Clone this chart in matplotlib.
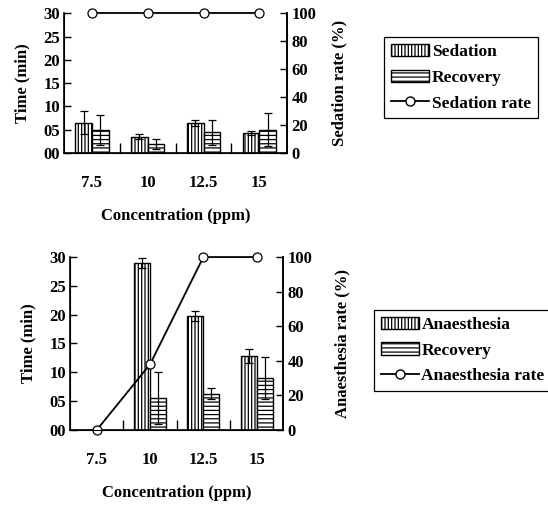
import matplotlib.pyplot as plt
import numpy as np
from matplotlib.lines import Line2D
from matplotlib.patches import Patch

plt.rcParams["font.family"] = ["Liberation Serif", "DejaVu Serif"]
plt.rcParams["font.weight"] = "bold"
plt.rcParams["hatch.linewidth"] = 0.9

concentrations = ["7.5", "10", "12.5", "15"]

# top panel: sedation
sedation_time = [6.5, 3.5, 6.5, 4.3]
sedation_err = [2.5, 0.5, 0.7, 0.5]
sed_recovery_time = [5.0, 2.0, 4.5, 5.0]
sed_recovery_err = [3.2, 1.1, 2.7, 3.5]
sedation_rate = [100, 100, 100, 100]

# bottom panel: anaesthesia
anaesthesia_time = [0.0, 29.0, 19.8, 12.8]
anaesthesia_err = [0.0, 0.9, 0.9, 1.2]
ana_recovery_time = [0.0, 5.5, 6.3, 9.0]
ana_recovery_err = [0.0, 4.5, 1.0, 3.7]
anaesthesia_rate = [0, 38, 100, 100]

y_ticks = [0, 5, 10, 15, 20, 25, 30]
y_ticklabels = ["00", "05", "10", "15", "20", "25", "30"]
rate_ticks = [0, 20, 40, 60, 80, 100]

FS = 12


def draw_panel(ax, t1, e1, t2, e2, rate, name, rpad):
    x = np.arange(len(concentrations))
    w = 0.3
    ax.bar(x - w / 2, t1, w, color="white", edgecolor="black", hatch="|||||", lw=1)
    ax.bar(x + w / 2, t2, w, color="white", edgecolor="black", hatch="----", lw=1)
    for xs, t, e in [(x - w / 2, t1, e1), (x + w / 2, t2, e2)]:
        m = np.array(t) > 0
        ax.errorbar(xs[m], np.array(t)[m], yerr=np.array(e)[m], fmt="none",
                    ecolor="black", elinewidth=0.9, capsize=3, capthick=0.9)
    ax.set_xlim(-0.5, len(concentrations) - 0.5)
    ax.set_ylim(0, 30)
    ax.set_yticks(y_ticks)
    ax.set_yticklabels(y_ticklabels)
    ax.set_xticks([0.5, 1.5, 2.5])
    ax.set_xticklabels([])
    ax.set_xticks(x, minor=True)
    ax.set_xticklabels(concentrations, minor=True)
    ax.tick_params(axis="x", which="major", direction="in", length=7, width=1)
    ax.tick_params(axis="x", which="minor", length=0, pad=16, labelsize=FS)
    ax.tick_params(axis="y", direction="in", length=5, width=1, labelsize=FS, pad=3)
    ax.spines["top"].set_visible(False)
    for s in ["left", "bottom", "right"]:
        ax.spines[s].set_linewidth(1.2)
    ax.set_ylabel("Time (min)", fontsize=FS, fontweight="bold", labelpad=9)
    ax.set_xlabel("Concentration (ppm)", fontsize=FS, fontweight="bold", labelpad=12)

    ax2 = ax.twinx()
    ax2.plot(x, rate, color="black", lw=1.3, marker="o", ms=6.5,
             mfc="white", mec="black", mew=0.9, clip_on=False)
    ax2.set_ylim(0, 100)
    ax2.set_yticks(rate_ticks)
    ax2.tick_params(axis="y", direction="in", length=5, width=1, labelsize=FS, pad=3)
    ax2.spines["top"].set_visible(False)
    ax2.spines["right"].set_linewidth(1.2)
    ax2.set_ylabel(name + " rate (%)", fontsize=FS, fontweight="bold", labelpad=rpad)
    return ax2


def add_legend(fig, name, anchor):
    handles = [
        Patch(facecolor="white", edgecolor="black", hatch="|||||"),
        Patch(facecolor="white", edgecolor="black", hatch="----"),
        Line2D([], [], color="black", lw=1.3, marker="o", ms=6.5, mfc="white", mec="black"),
    ]
    labels = [name, "Recovery", name + " rate"]
    leg = fig.legend(handles, labels, loc="upper left", bbox_to_anchor=anchor,
                     fancybox=False, edgecolor="black", framealpha=1,
                     fontsize=12.5, handlelength=2.2, handletextpad=0.15,
                     labelspacing=0.55, borderpad=0.4, borderaxespad=0)
    leg.get_frame().set_linewidth(0.9)


fig = plt.figure(figsize=(5.48, 5.07), dpi=100)
ax_top = fig.add_axes([0.117, 0.698, 0.407, 0.276])
ax_bot = fig.add_axes([0.128, 0.152, 0.389, 0.341])

draw_panel(ax_top, sedation_time, sedation_err, sed_recovery_time, sed_recovery_err,
           sedation_rate, "Sedation", 11)
draw_panel(ax_bot, anaesthesia_time, anaesthesia_err, ana_recovery_time, ana_recovery_err,
           anaesthesia_rate, "Anaesthesia", 16)

add_legend(fig, "Sedation", (0.701, 0.927))
add_legend(fig, "Anaesthesia", (0.682, 0.389))

fig.savefig("out.png", dpi=100)
